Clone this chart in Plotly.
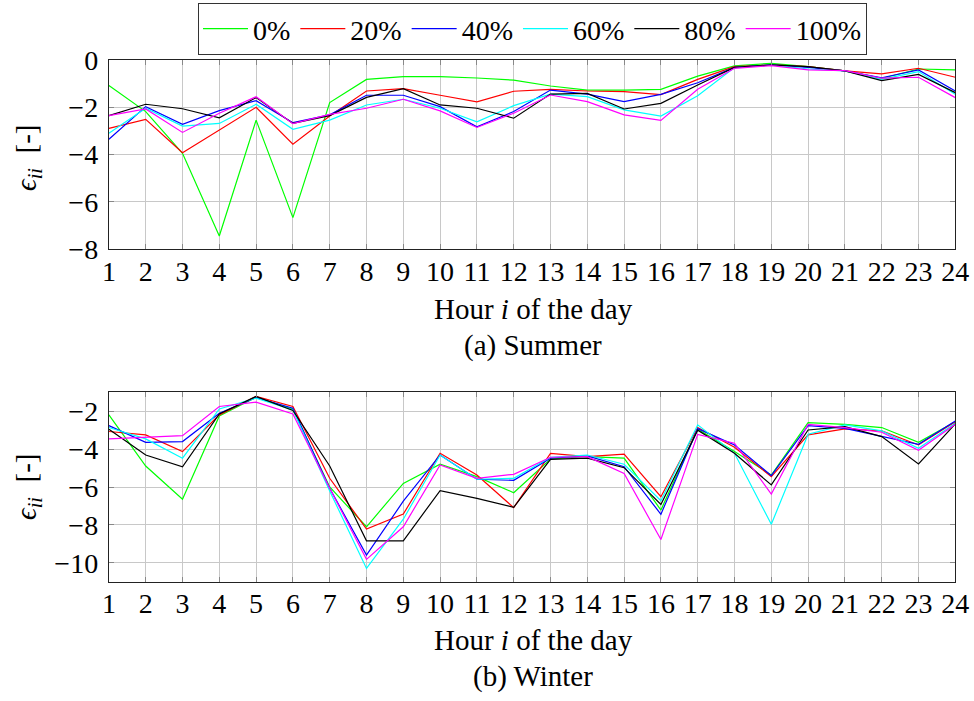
import plotly.graph_objects as go

# Hours of the day
hours = list(range(1, 25))
series_names = ["0%", "20%", "40%", "60%", "80%", "100%"]
series_colors = ["#00ff00", "#ff0000", "#0000ff", "#00ffff", "#000000", "#ff00ff"]

# Summer own-price elasticities per share level
summer_0 = [-1.08, -2.18, -3.94, -7.44, -2.54, -6.66, -1.80, -0.82, -0.70, -0.70, -0.76, -0.85,
            -1.10, -1.27, -1.27, -1.24, -0.68, -0.25, -0.14, -0.28, -0.46, -0.78, -0.38, -0.42]
summer_20 = [-2.89, -2.51, -3.92, -2.96, -2.00, -3.56, -2.37, -1.31, -1.21, -1.49, -1.77, -1.32,
             -1.24, -1.31, -1.34, -1.46, -0.82, -0.28, -0.21, -0.28, -0.46, -0.59, -0.35, -0.73]
summer_40 = [-3.35, -1.97, -2.72, -2.14, -1.72, -2.65, -2.32, -1.49, -1.49, -1.97, -2.82, -2.18,
             -1.27, -1.44, -1.76, -1.45, -0.96, -0.31, -0.21, -0.31, -0.46, -0.75, -0.42, -1.31]
summer_60 = [-3.10, -2.04, -2.79, -2.68, -1.87, -2.93, -2.54, -1.90, -1.66, -2.04, -2.61, -1.93,
             -1.44, -1.55, -2.11, -2.37, -1.51, -0.32, -0.21, -0.38, -0.46, -0.82, -0.49, -1.45]
summer_80 = [-2.35, -1.87, -2.06, -2.44, -1.59, -2.68, -2.35, -1.58, -1.21, -1.90, -2.04, -2.46,
             -1.44, -1.41, -2.07, -1.83, -1.06, -0.31, -0.21, -0.28, -0.46, -0.87, -0.61, -1.38]
summer_100 = [-2.35, -2.07, -3.06, -2.25, -1.55, -2.69, -2.30, -2.04, -1.66, -2.15, -2.85, -2.25,
              -1.48, -1.76, -2.32, -2.55, -1.24, -0.35, -0.24, -0.42, -0.45, -0.77, -0.73, -1.59]

# Winter own-price elasticities per share level
winter_0 = [-2.19, -4.89, -6.65, -2.25, -1.26, -1.89, -6.00, -8.10, -5.81, -4.80, -5.45, -6.30,
            -4.52, -4.40, -4.48, -7.22, -2.95, -4.13, -5.37, -2.60, -2.69, -2.86, -3.64, -2.55]
winter_20 = [-3.07, -3.25, -4.13, -2.19, -1.22, -1.75, -5.54, -8.22, -7.43, -4.22, -5.37, -7.09,
             -4.22, -4.40, -4.27, -6.51, -2.86, -3.90, -5.45, -3.25, -2.93, -3.04, -3.78, -2.55]
winter_40 = [-2.76, -3.64, -3.60, -2.11, -1.28, -1.84, -6.07, -9.59, -6.75, -4.31, -5.59, -5.65,
             -4.48, -4.36, -4.93, -7.44, -2.92, -3.78, -5.40, -2.76, -2.90, -3.34, -3.75, -2.51]
winter_60 = [-2.86, -3.46, -4.48, -1.88, -1.31, -1.93, -6.21, -10.30, -7.70, -4.31, -5.59, -5.54,
             -4.43, -4.31, -4.80, -6.72, -2.72, -4.22, -7.97, -3.21, -2.72, -3.04, -3.96, -2.63]
winter_80 = [-2.95, -4.31, -4.93, -2.14, -1.22, -1.96, -4.89, -8.84, -8.84, -6.19, -6.60, -7.07,
             -4.54, -4.48, -4.98, -6.92, -3.00, -4.22, -5.89, -2.99, -2.81, -3.34, -4.78, -2.67]
winter_100 = [-3.46, -3.39, -3.29, -1.75, -1.52, -2.14, -6.07, -9.82, -8.10, -4.84, -5.54, -5.33,
              -4.43, -4.40, -5.28, -8.77, -3.22, -3.69, -6.37, -2.69, -2.86, -3.11, -4.06, -2.69]

summer = [summer_0, summer_20, summer_40, summer_60, summer_80, summer_100]
winter = [winter_0, winter_20, winter_40, winter_60, winter_80, winter_100]

summer_yticks = [-8, -6, -4, -2, 0]
summer_yticktext = ["\u22128", "\u22126", "\u22124", "\u22122", "0"]
winter_yticks = [-10, -8, -6, -4, -2]
winter_yticktext = ["\u221210", "\u22128", "\u22126", "\u22124", "\u22122"]

W, H = 974, 701
FONT = "Liberation Serif"
FS = 28

fig = go.Figure()
for name, color, ys in zip(series_names, series_colors, summer):
    fig.add_trace(go.Scatter(x=hours, y=ys, mode="lines", name=name,
                             line=dict(color=color, width=1.2),
                             xaxis="x", yaxis="y", legendgroup=name))
for name, color, ys in zip(series_names, series_colors, winter):
    fig.add_trace(go.Scatter(x=hours, y=ys, mode="lines", name=name,
                             line=dict(color=color, width=1.2),
                             xaxis="x2", yaxis="y2", legendgroup=name, showlegend=False))

x_dom = [108.9 / W, 955.3 / W]
top_dom = [1 - 249.3 / H, 1 - 60 / H]
bot_dom = [1 - 581.7 / H, 1 - 392.3 / H]

common_x = dict(range=[1, 24], tickvals=hours, ticktext=[str(h) for h in hours],
                showgrid=True, gridcolor="#c8c8c8", gridwidth=1.2,
                showline=True, linecolor="#222222", linewidth=1.3, mirror="ticks",
                ticks="inside", ticklen=5, tickcolor="#888888", tickwidth=1,
                zeroline=False, tickfont=dict(family=FONT, size=FS, color="black"),
                automargin=False, ticklabelstandoff=-3, domain=x_dom)
common_y = dict(showgrid=True, gridcolor="#c8c8c8", gridwidth=1.2,
                showline=True, linecolor="#222222", linewidth=1.3, mirror="ticks",
                ticks="inside", ticklen=5, tickcolor="#888888", tickwidth=1,
                zeroline=False, tickfont=dict(family=FONT, size=FS, color="black"),
                automargin=False, ticklabelstandoff=4)

fig.update_layout(
    width=W, height=H,
    margin=dict(l=0, r=0, t=0, b=0, autoexpand=False),
    paper_bgcolor="white", plot_bgcolor="white",
    font=dict(family=FONT, size=FS, color="black"),
    xaxis=dict(common_x, anchor="y"),
    xaxis2=dict(common_x, anchor="y2"),
    yaxis=dict(common_y, range=[-8, 0], tickvals=summer_yticks, ticktext=summer_yticktext,
               domain=top_dom, anchor="x"),
    yaxis2=dict(common_y, range=[-11, -1], tickvals=winter_yticks, ticktext=winter_yticktext,
                domain=bot_dom, anchor="x2"),
    legend=dict(orientation="h", x=532.5 / W, xanchor="center", y=1 - 3 / H, yanchor="top",
                bordercolor="#333333", borderwidth=1, bgcolor="white",
                font=dict(family=FONT, size=FS), itemwidth=45,
                tracegroupgap=0),
    showlegend=True,
)

ylabel = "<i>\u03f5</i><sub><i>ii</i></sub>  [-]"
annotations = [
    dict(text=ylabel, x=28 / W, y=1 - 158 / H, textangle=-90),
    dict(text=ylabel, x=28 / W, y=1 - 487 / H, textangle=-90),
    dict(text="Hour <i>i</i> of the day", x=533 / W, y=1 - 309 / H),
    dict(text="(a) Summer", x=533 / W, y=1 - 345 / H),
    dict(text="Hour <i>i</i> of the day", x=533 / W, y=1 - 640 / H),
    dict(text="(b) Winter", x=533 / W, y=1 - 676 / H),
]
for a in annotations:
    fig.add_annotation(xref="paper", yref="paper", showarrow=False,
                       xanchor="center", yanchor="middle",
                       font=dict(family=FONT, size=29, color="black"), **a)

fig.write_html("out.html")
